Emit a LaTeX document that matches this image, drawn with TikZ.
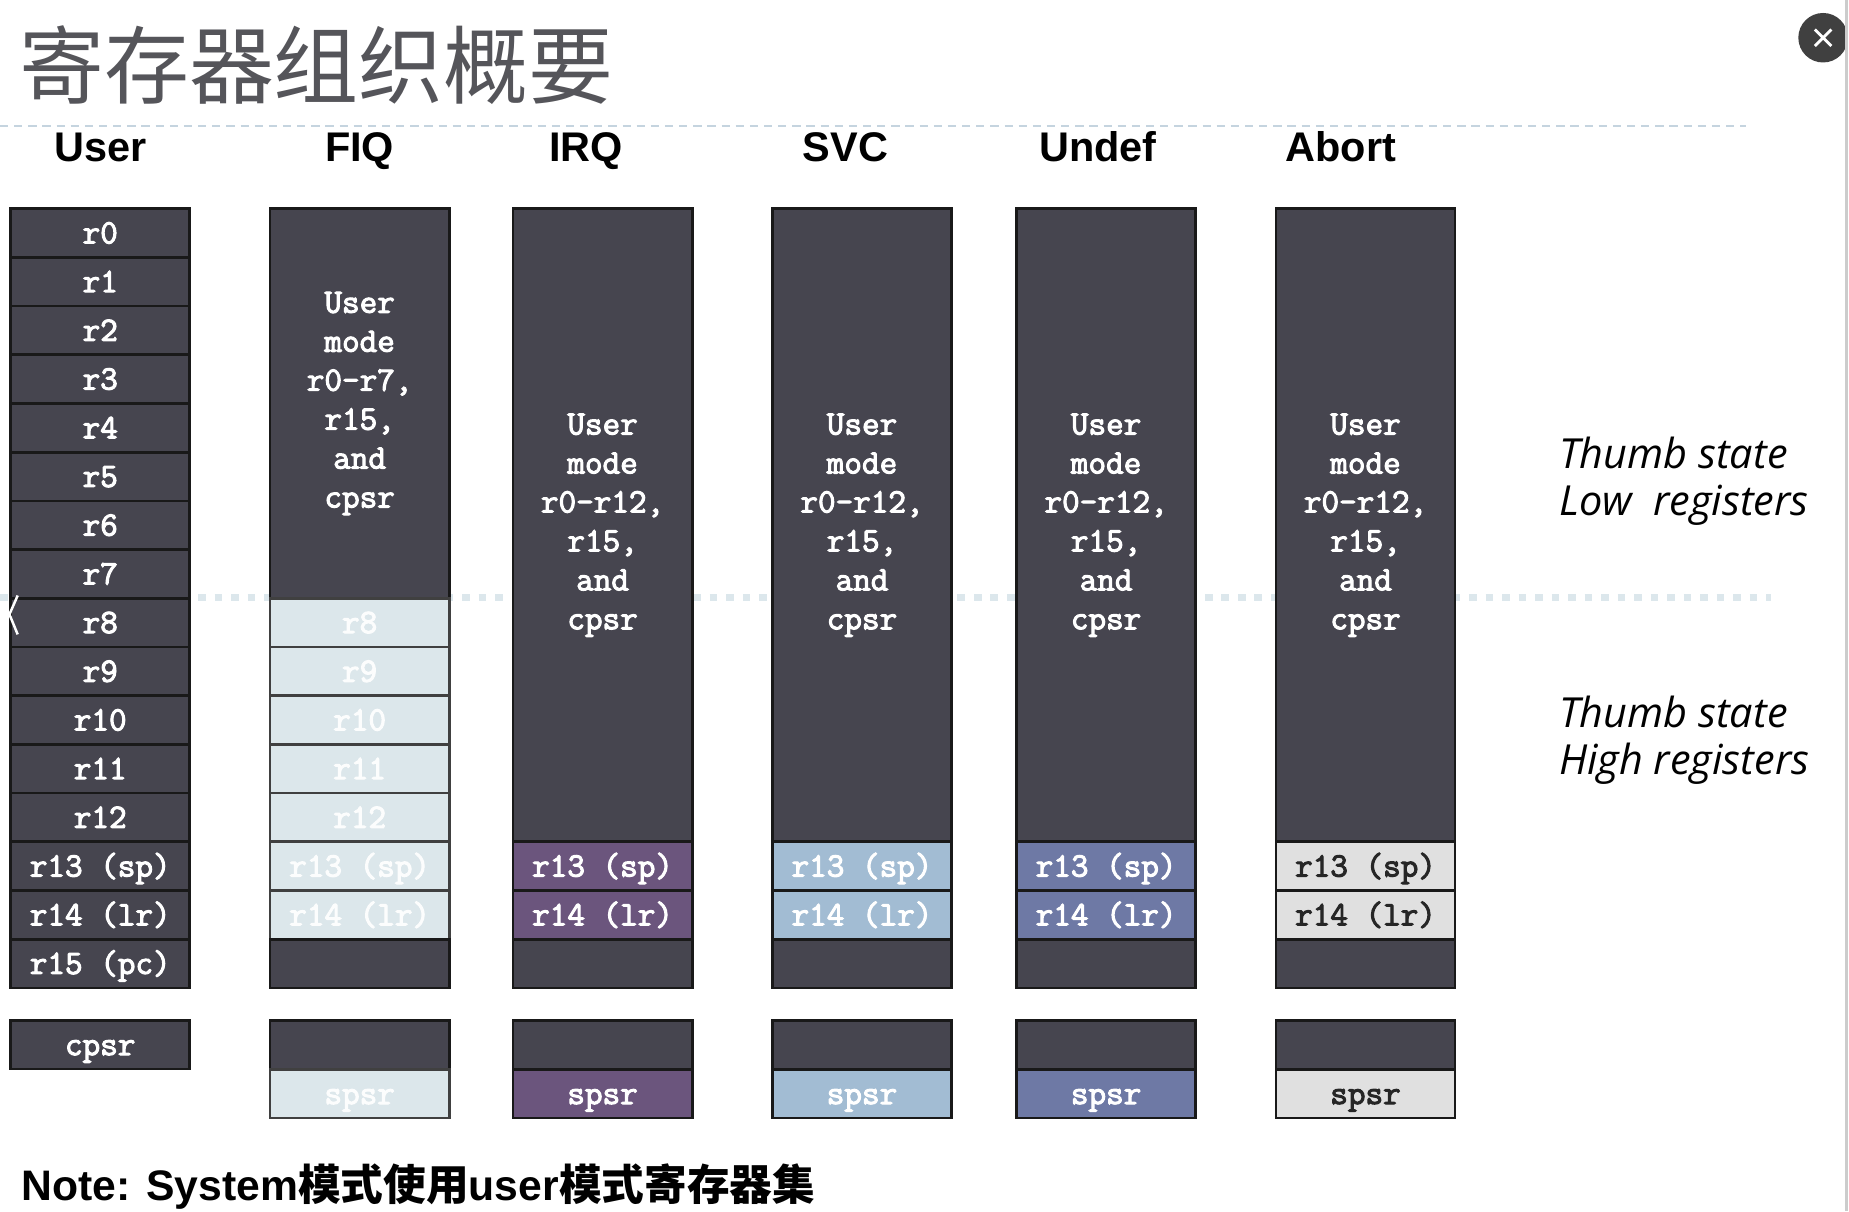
\documentclass[tikz,border=0pt]{standalone}
\usepackage{fontspec}
\usetikzlibrary{positioning}
\newfontfamily\cjk{Noto Sans CJK SC}
\newfontfamily\hd{Liberation Sans}
\newfontfamily\hand{Open Sans}
\newfontfamily\regfont{Latin Modern Mono}[FakeBold=3]
\definecolor{regc}{HTML}{46454F}
\definecolor{fiqc}{HTML}{DCE7EB}
\definecolor{irqc}{HTML}{6B557D}
\definecolor{svcc}{HTML}{A2BCD3}
\definecolor{undc}{HTML}{6E79A5}
\definecolor{abtc}{HTML}{E0E0E0}
\definecolor{titlec}{HTML}{55555A}
\definecolor{dashc}{HTML}{C5D4DF}
\definecolor{dotc}{HTML}{DCE7EC}
\tikzset{cell/.style={rectangle,draw=black!90,line width=1.3pt,fill=regc,text=white,
minimum width=3.04cm,minimum height=0.826cm,inner sep=0pt,outer sep=0pt,
font=\fontsize{16.5}{18.8}\selectfont\regfont},
reg/.style={cell,text height=10pt,text depth=0pt},
blk/.style={cell,align=center},
fiq/.style={reg,fill=fiqc,draw=black!75,text=white!92!fiqc},
hdr/.style={anchor=base,font=\fontsize{20}{24}\selectfont\hd\bfseries},
hnote/.style={anchor=west,align=left,font=\fontsize{20}{22.7}\selectfont\hand\itshape}}

\begin{document}
\begin{tikzpicture}[x=0.02cm,y=-0.02cm]
  \useasboundingbox (0,0) rectangle (1568,1027);
  % guide lines
  \draw [dashc,line width=1.1pt,dash pattern=on 0.14cm off 0.1cm] (0,107) -- (1481,107);
  \draw [dotc,line width=3.4pt,dash pattern=on 0.13cm off 0.15cm] (0,507) -- (1502,507);
  \node [anchor=west,font=\fontsize{41}{41}\selectfont\cjk,text=titlec] (title) at (10,55) {寄存器组织概要};
  % mode names
  \node (hu) [hdr] at (85,137) {User};
  \node (hf) [hdr] at (305,137) {FIQ};
  \node (hi) [hdr] at (497,137) {IRQ};
  \node (hs) [hdr] at (717,137) {SVC};
  \node (hd) [hdr] at (931,137) {Undef};
  \node (ha) [hdr] at (1137,137) {Abort};
  % user registers
  \foreach \r [count=\i from 0] in {r0,r1,r2,r3,r4,r5,r6,r7,r8,r9,r10,r11,r12,r13 (sp),r14 (lr),r15 (pc)}
    \node (u\i) [reg] at (85,{197.65+41.3*\i}) {\r};
  \node (ucpsr) [reg] at (85,886) {cpsr};
  % fiq
  \node (bf) [blk,minimum height=6.608cm] at (305,342.2) {User\\mode\\r0-r7,\\r15,\\and\\cpsr};
  \foreach \r [count=\i from 8] in {r8,r9,r10,r11,r12,r13 (sp),r14 (lr)}
    \node (f\i) [fiq] at (305,{197.65+41.3*\i}) {\r};
  \node (f15) [reg] at (305,817.15) {};
  \node (fp0) [reg] at (305,886) {};
  \node (fp) [fiq] at (305,927.5) {spsr};
  % irq, svc, undef, abort
  \foreach \x/\c/\t/\n in {511/irqc/white/i,731/svcc/white/s,938/undc/white/d,1158/abtc/black!85/a}{
    \node (b\n) [blk,minimum height=10.738cm] at (\x,445.45) {User\\mode\\r0-r12,\\r15,\\and\\cpsr};
    \node (\n13) [reg,fill=\c,text=\t] at (\x,734.55) {r13 (sp)};
    \node (\n14) [reg,fill=\c,text=\t] at (\x,775.85) {r14 (lr)};
    \node (\n15) [reg] at (\x,817.15) {};
    \node (\n p0) [reg] at (\x,886) {};
    \node (\n p) [reg,fill=\c,text=\t] at (\x,927.5) {spsr};
  }
  \node (lo) [hnote] at (1316,408) {Thumb state\\Low\ \ registers};
  \node (hi2) [hnote] at (1316,628) {Thumb state\\High registers};
  \node [anchor=west,font=\fontsize{20.6}{21}\selectfont\hd\bfseries] (note) at (12,1006)
    {Note: System{\cjk 模式使用}user{\cjk 模式寄存器集}};
  % screen bits
  \node (close) [circle,fill=black!75,minimum size=0.84cm,inner sep=0pt] at (1546,32) {};
  \draw [white,line width=1.4pt] (1539,25) -- (1553,39) (1553,25) -- (1539,39);
  \draw [black!20,line width=1.2pt] (1566,0) -- (1566,1027);
  \draw [white,line width=1.2pt] (15,505) -- (8,521) -- (15,538);
\end{tikzpicture}
\end{document}
